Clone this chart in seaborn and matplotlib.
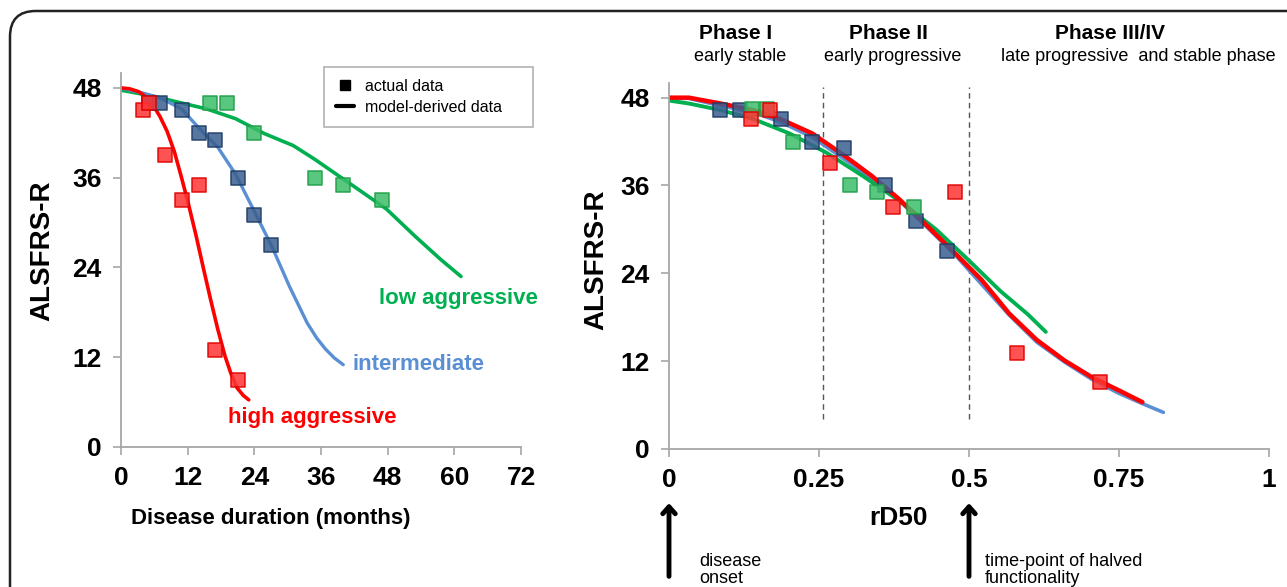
import matplotlib
matplotlib.use('Agg')
import matplotlib.pyplot as plt
import seaborn as sns
from matplotlib.lines import Line2D
from matplotlib.patches import FancyBboxPatch

# ---- left panel: disease duration (months) ----
red_act_x = [4, 5, 8, 11, 14, 17, 21]
red_act_y = [45, 46, 39, 33, 35, 13, 9]
blue_act_x = [5, 7, 11, 14, 17, 21, 24, 27]
blue_act_y = [46, 46, 45, 42, 41, 36, 31, 27]
green_act_x = [5, 16, 19, 24, 35, 40, 47]
green_act_y = [46, 46, 46, 42, 36, 35, 33]

red_mod_x = [0, 1.5, 3.2, 4.5, 5.75, 7, 8.3, 9.6, 10.9, 12.2, 13.5, 14.8, 16.1, 17.4, 18.7, 19.8, 20.9, 22, 23]
red_mod_y = [48, 47.9, 47.5, 46.8, 45.7, 44.2, 42.2, 39.5, 36, 32.3, 28.3, 24, 19.8, 15.8, 12.2, 9.8, 7.9, 6.9, 6.3]
blue_mod_x = [0, 3.5, 7, 10.9, 14.2, 17.4, 20.6, 23.8, 27.1, 30.3, 33.5, 35.2, 36.8, 38.4, 40]
blue_mod_y = [48, 47.4, 46.7, 45.2, 42.5, 40.1, 36.5, 31.8, 26.9, 21.5, 16.6, 14.6, 13.1, 11.9, 11.0]
green_mod_x = [0, 5.1, 10.3, 15.4, 20.6, 25.8, 31, 34.8, 38.7, 42.6, 47.8, 52.9, 57.5, 61.2]
green_mod_y = [47.7, 47.0, 46.1, 45.2, 43.9, 41.9, 40.3, 38.5, 36.5, 34.5, 31.8, 28.2, 25.1, 22.8]

# ---- right panel: relative D50 ----
red_rd_x = [0.136, 0.169, 0.269, 0.373, 0.477, 0.580, 0.718]
red_rd_y = [45.1, 46.3, 39.1, 33.1, 35.1, 13.1, 9.2]
blue_rd_x = [0.085, 0.118, 0.187, 0.239, 0.291, 0.360, 0.411, 0.463]
blue_rd_y = [46.3, 46.3, 45.1, 42.0, 41.1, 36.0, 31.1, 27.0]
green_rd_x = [0.138, 0.164, 0.206, 0.302, 0.347, 0.408]
green_rd_y = [46.4, 46.4, 42.0, 36.0, 35.1, 33.1]

red_rdm_x = [0, 0.033, 0.086, 0.140, 0.185, 0.239, 0.292, 0.338, 0.384, 0.430, 0.476, 0.521, 0.567, 0.613, 0.659, 0.705, 0.750, 0.789]
red_rdm_y = [48, 48, 47.2, 46.3, 45.1, 43.1, 40.1, 37.3, 34.1, 30.5, 26.8, 23.1, 18.5, 14.9, 12.1, 9.8, 8.0, 6.4]
blue_rdm_x = [0, 0.033, 0.086, 0.140, 0.185, 0.239, 0.292, 0.338, 0.384, 0.430, 0.476, 0.521, 0.567, 0.613, 0.659, 0.705, 0.750, 0.789, 0.824]
blue_rdm_y = [47.9, 47.9, 46.9, 46.0, 44.7, 42.6, 39.6, 36.9, 33.9, 30.3, 26.6, 22.5, 18.3, 14.6, 11.9, 9.5, 7.6, 6.2, 5.0]
green_rdm_x = [0, 0.033, 0.086, 0.140, 0.201, 0.262, 0.323, 0.384, 0.445, 0.498, 0.552, 0.598, 0.628]
green_rdm_y = [47.6, 47.2, 46.3, 45.1, 43.1, 40.5, 37.3, 33.9, 30.0, 25.9, 21.6, 18.4, 16.0]

y_ticks = [0, 12, 24, 36, 48]
month_ticks = [0, 12, 24, 36, 48, 60, 72]
rd_ticks = [0, 0.25, 0.5, 0.75, 1]
rd_labels = ['0', '0.25', '0.5', '0.75', '1']

RED = '#FF0000'
BLUE_LINE = '#5A8FD4'
BLUE_SQ = '#3A5F8F'
GREEN = '#00B050'
GRAY = '#A6A6A6'


def style_axes(ax):
    sns.despine(ax=ax)
    for side in ['left', 'bottom']:
        ax.spines[side].set_color(GRAY)
        ax.spines[side].set_linewidth(1.3)
    ax.tick_params(direction='out', length=6, width=1.2, color=GRAY,
                   labelcolor='black', pad=8)
    ax.set_facecolor('white')


def squares(ax, x, y, face, edge):
    sns.scatterplot(x=x, y=y, marker='s', s=115, color=face, edgecolor=edge,
                    linewidth=1.2, alpha=0.85, ax=ax, zorder=4)


def main():
    sns.set_style('ticks')
    plt.rcParams['font.family'] = ['Liberation Sans', 'DejaVu Sans']
    plt.rcParams['text.color'] = 'black'
    plt.rcParams['axes.labelcolor'] = 'black'

    fig = plt.figure(figsize=(12.87, 5.87), dpi=100)
    fig.patch.set_facecolor('white')

    # rounded frame around the whole figure
    frame = FancyBboxPatch((10 / 1287, -0.1), 1.2, 1 - 11 / 587 + 0.1,
                           boxstyle='round,pad=0,rounding_size=0.02',
                           transform=fig.transFigure, fill=False,
                           edgecolor='#222222', linewidth=1.8,
                           mutation_aspect=1287 / 587)
    fig.patches.append(frame)

    # ---------- left panel ----------
    ax1 = fig.add_axes([121 / 1287, 140 / 587, 400 / 1287, 374 / 587])
    style_axes(ax1)
    sns.lineplot(x=green_mod_x, y=green_mod_y, color=GREEN, lw=2.6, sort=False, ax=ax1)
    sns.lineplot(x=blue_mod_x, y=blue_mod_y, color=BLUE_LINE, lw=2.4, sort=False, ax=ax1)
    sns.lineplot(x=red_mod_x, y=red_mod_y, color=RED, lw=2.6, sort=False, ax=ax1)
    squares(ax1, green_act_x, green_act_y, '#3CBD69', '#1E9E48')
    squares(ax1, blue_act_x, blue_act_y, BLUE_SQ, '#1F3D66')
    squares(ax1, red_act_x, red_act_y, '#FF3535', '#E00000')

    ax1.set_xlim(0, 72)
    ax1.set_ylim(0, 50)
    ax1.set_xticks(month_ticks)
    ax1.set_yticks(y_ticks)
    for lab in ax1.get_xticklabels() + ax1.get_yticklabels():
        lab.set_fontsize(19)
        lab.set_fontweight('bold')
    ax1.set_xlabel('Disease duration (months)', fontsize=16, fontweight='bold')
    ax1.xaxis.set_label_coords(0.375, -0.162)
    ax1.set_ylabel('ALSFRS-R', fontsize=20, fontweight='bold')
    ax1.yaxis.set_label_coords(-0.165, 0.524)

    ax1.text(46.4, 19.8, 'low aggressive', color=GREEN, fontsize=16,
             fontweight='bold', va='center', ha='left')
    ax1.text(41.6, 11.0, 'intermediate', color=BLUE_LINE, fontsize=16,
             fontweight='bold', va='center', ha='left')
    ax1.text(19.3, 3.9, 'high aggressive', color=RED, fontsize=16,
             fontweight='bold', va='center', ha='left')

    handles = [Line2D([], [], marker='s', color='black', linestyle='none', markersize=7),
               Line2D([], [], color='black', lw=3)]
    leg = ax1.legend(handles, ['actual data', 'model-derived data'],
                     loc='upper left', bbox_to_anchor=(0.5075, 1.016, 0.5225, 0.0),
                     mode='expand', fontsize=11.5, frameon=True, fancybox=False,
                     handlelength=1.1, handletextpad=0.7, borderpad=0.75,
                     labelspacing=0.35, borderaxespad=0)
    leg.get_frame().set_edgecolor(GRAY)
    leg.get_frame().set_linewidth(1.3)

    # ---------- right panel ----------
    ax2 = fig.add_axes([669 / 1287, 138 / 587, 600 / 1287, 366 / 587])
    style_axes(ax2)
    sns.lineplot(x=blue_rdm_x, y=blue_rdm_y, color=BLUE_LINE, lw=2.6, sort=False, ax=ax2)
    sns.lineplot(x=green_rdm_x, y=green_rdm_y, color=GREEN, lw=2.8, sort=False, ax=ax2)
    sns.lineplot(x=red_rdm_x, y=red_rdm_y, color=RED, lw=3.2, sort=False, ax=ax2)
    squares(ax2, blue_rd_x, blue_rd_y, BLUE_SQ, '#1F3D66')
    squares(ax2, green_rd_x, green_rd_y, '#3CBD69', '#1E9E48')
    squares(ax2, red_rd_x, red_rd_y, '#FF3535', '#E00000')

    for xv in [0.256, 0.5]:
        ax2.plot([xv, xv], [4.1, 49.5], color='#555555', lw=1, ls=(0, (4, 3)), zorder=1)

    ax2.set_xlim(0, 1)
    ax2.set_ylim(0, 50)
    ax2.set_xticks(rd_ticks)
    ax2.set_xticklabels(rd_labels)
    ax2.set_yticks(y_ticks)
    for lab in ax2.get_xticklabels() + ax2.get_yticklabels():
        lab.set_fontsize(19)
        lab.set_fontweight('bold')
    ax2.set_xlabel('rD50', fontsize=19, fontweight='bold')
    ax2.xaxis.set_label_coords(0.383, -0.155)
    ax2.set_ylabel('ALSFRS-R', fontsize=20, fontweight='bold')
    ax2.yaxis.set_label_coords(-0.1, 0.516)

    # phase headings above the plot
    phases = [(0.111, 0.118, 'Phase I', 'early stable'),
              (0.365, 0.3725, 'Phase II', 'early progressive'),
              (0.735, 0.782, 'Phase III/IV', 'late progressive  and stable phase')]
    for xh, xs, head, sub in phases:
        ax2.text(xh, 56.7, head, fontsize=15, fontweight='bold', ha='center', va='center')
        ax2.text(xs, 53.6, sub, fontsize=13, ha='center', va='center')

    # arrows below the axis
    for xa in [0, 0.5]:
        ax2.annotate('', xy=(xa, -7.4), xytext=(xa, -17.4),
                     arrowprops=dict(arrowstyle='->,head_length=0.5,head_width=0.45',
                                     color='black', lw=3.5, shrinkA=0, shrinkB=0),
                     annotation_clip=False)
    ax2.text(0.05, -14.2, 'disease\nonset', fontsize=13, va='top', ha='left',
             linespacing=1.0)
    ax2.text(0.527, -14.2, 'time-point of halved\nfunctionality', fontsize=13,
             va='top', ha='left', linespacing=1.0)

    fig.savefig('out.png', dpi=100, facecolor='white')


if __name__ == '__main__':
    main()
